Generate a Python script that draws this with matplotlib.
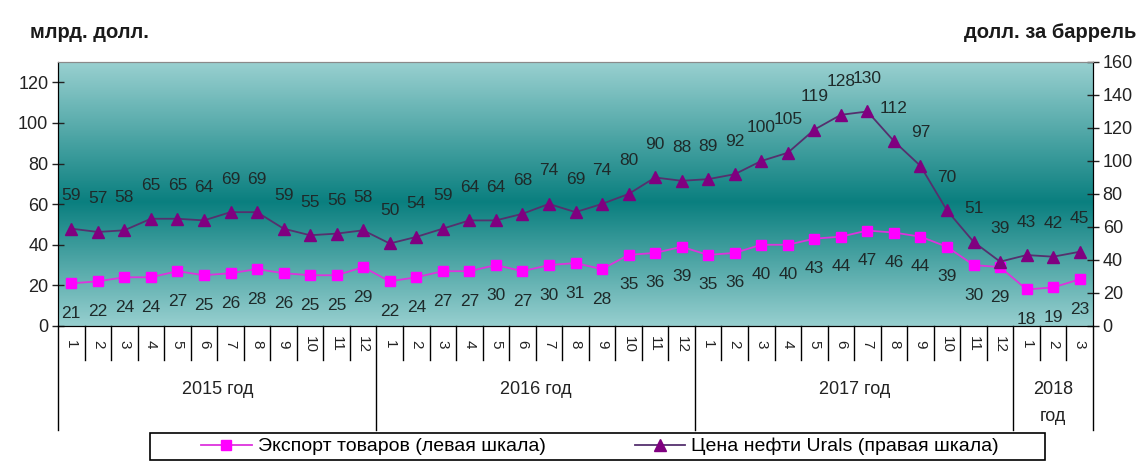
import numpy as np
import matplotlib
matplotlib.use("Agg")
import matplotlib.pyplot as plt
from matplotlib.colors import LinearSegmentedColormap
from matplotlib.lines import Line2D
from matplotlib.patches import Rectangle
from matplotlib import transforms

plt.rcParams['font.family'] = ['Liberation Sans', 'DejaVu Sans']

# Monthly data, Jan 2015 - Mar 2018
years = ['2015 год', '2016 год', '2017 год', '2018\nгод']
months_per_year = [12, 12, 12, 3]
month_labels = [str(m) for n in months_per_year for m in range(1, n + 1)]

export_bln = [21, 22, 24, 24, 27, 25, 26, 28, 26, 25, 25, 29,
              22, 24, 27, 27, 30, 27, 30, 31, 28, 35, 36, 39,
              35, 36, 40, 40, 43, 44, 47, 46, 44, 39, 30, 29,
              18, 19, 23]
urals_price = [59, 57, 58, 65, 65, 64, 69, 69, 59, 55, 56, 58,
               50, 54, 59, 64, 64, 68, 74, 69, 74, 80, 90, 88,
               89, 92, 100, 105, 119, 128, 130, 112, 97, 70, 51, 39,
               43, 42, 45]

W, H = 1143, 468
fig = plt.figure(figsize=(W / 100, H / 100), dpi=100)
ax = fig.add_axes([58 / W, 1 - 326 / H, (1093 - 58) / W, (326 - 62) / H])
ax2 = ax.twinx()

n = len(month_labels)
x = np.arange(n) + 0.5

# teal background, dark in the middle, light at top and bottom
cmap = LinearSegmentedColormap.from_list(
    'teal', [(0.0, '#97cfcf'), (0.47, '#0a7f7f'), (1.0, '#99d0d0')])
grad = np.linspace(0, 1, 256).reshape(-1, 1)
ax.imshow(grad, cmap=cmap, extent=[0, 1, 0, 1], origin='lower',
          aspect='auto', transform=ax.transAxes, zorder=0)

ax.set_xlim(0, n)
ax.set_ylim(0, 130)
ax2.set_ylim(0, 160)
ax.set_yticks(range(0, 121, 20))
ax2.set_yticks(range(0, 161, 20))
ax.set_xticks([])
ax2.set_xticks([])

for a in (ax, ax2):
    a.tick_params(axis='y', direction='inout', length=8, width=1,
                  labelsize=13, colors='#222222', pad=3)
    a.spines['top'].set_color('#8a8a8a')
    a.spines['bottom'].set_color('black')
    a.spines['left'].set_color('black')
    a.spines['right'].set_color('black')

ax2.set_zorder(ax.get_zorder() + 1)
ax2.patch.set_visible(False)

ax.plot(x, export_bln, color='#dd33dd', lw=1.3, marker='s', ms=7,
        mfc='#ff00ff', mec='#ff00ff', zorder=3)
ax2.plot(x, urals_price, color='#55306e', lw=1.3, marker='^', ms=9,
         mfc='#800080', mec='#800080', zorder=3)

for xi, v in zip(x, export_bln):
    ax.annotate(str(v), (xi, v), xytext=(0, -30), textcoords='offset pixels',
                ha='center', va='center', fontsize=12.5, color='#1e2a2a')
for xi, v in zip(x, urals_price):
    ax2.annotate(str(v), (xi, v), xytext=(0, 33), textcoords='offset pixels',
                 ha='center', va='center', fontsize=12.5, color='#1e2a2a')

# category axis: month labels, separators, year labels
tr = transforms.blended_transform_factory(ax.transData, fig.transFigure)
for i, lab in enumerate(month_labels):
    fig.text(x[i], 1 - 344 / H, lab, transform=tr, rotation=-90,
             ha='center', va='center', fontsize=11, color='#222222')
year_edges = np.concatenate([[0], np.cumsum(months_per_year)])
for i in range(n + 1):
    bottom = 430 if i in year_edges else 360
    fig.add_artist(Line2D([i, i], [1 - 326 / H, 1 - bottom / H],
                          transform=tr, color='black', lw=1))
for k, yl in enumerate(years):
    mid = (year_edges[k] + year_edges[k + 1]) / 2
    fig.text(mid, 1 - 403 / H if '\n' in yl else 1 - 390 / H, yl,
             transform=tr, ha='center', va='center', fontsize=13,
             color='#222222', linespacing=1.75)

fig.text(30 / W, 1 - 33 / H, 'млрд. долл.', fontsize=14.5,
         fontweight='bold', ha='left', va='center', color='#1a1a1a')
fig.text(1136 / W, 1 - 33 / H, 'долл. за баррель', fontsize=14.5,
         fontweight='bold', ha='right', va='center', color='#1a1a1a')

# legend: frameless entries inside a hand-drawn box
fig.add_artist(Rectangle((150 / W, 1 - 460 / H), 895 / W, 27 / H,
                         transform=fig.transFigure, fill=True,
                         facecolor='white', edgecolor='black', lw=1.2))
handles = [
    Line2D([], [], color='#dd33dd', lw=1.3, marker='s', ms=7,
           mfc='#ff00ff', mec='#ff00ff'),
    Line2D([], [], color='#55306e', lw=1.3, marker='^', ms=9,
           mfc='#800080', mec='#800080'),
]
fig.legend(handles, ['Экспорт товаров (левая шкала)',
                     'Цена нефти Urals (правая шкала)'],
           loc='center', bbox_to_anchor=(600 / W, 1 - 446.5 / H),
           ncol=2, fontsize=14, frameon=False, handlelength=2.6,
           handletextpad=0.3, columnspacing=4.6, borderpad=0,
           borderaxespad=0)

fig.savefig('out.png', dpi=100)
